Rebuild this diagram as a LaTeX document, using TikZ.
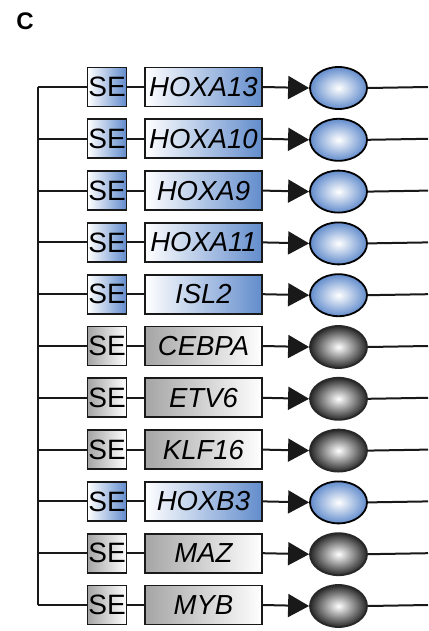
\documentclass[tikz,border=0pt]{standalone}
\usepackage{fontspec}
\setmainfont{Liberation Sans}
\usetikzlibrary{arrows.meta,shapes.geometric}

% shading colours for the two kinds of rows (b = blue, g = grey)
\definecolor{seblue}{RGB}{98,140,204}
\definecolor{segray}{RGB}{165,165,165}
\definecolor{balldark}{RGB}{40,40,40}
\colorlet{lcb}{white}   \colorlet{rcb}{seblue}
\colorlet{lcg}{segray}  \colorlet{rcg}{white}
\colorlet{ocb}{seblue}  \colorlet{ocg}{balldark}
\colorlet{dcb}{black}   \colorlet{dcg}{balldark}

\begin{document}
\begin{tikzpicture}[x=1pt,y=-1pt,
  wire/.style={draw=black!90, line width=2pt},
  box/.style={draw=black!90, line width=1.8pt, minimum height=39pt, inner sep=0pt},
  sebox/.style={box, minimum width=39pt, font=\fontsize{28}{28}\selectfont},
  genebox/.style={box, minimum width=117pt, font=\fontsize{27.5}{27.5}\selectfont\itshape},
  tf/.style={ellipse, minimum width=57pt, minimum height=42pt, inner sep=0pt, line width=1.8pt},
  tip/.style={-{Triangle[length=21pt,width=23pt]}}
]
\useasboundingbox (0,0) rectangle (428,631);

\node[font=\fontsize{24}{24}\selectfont\bfseries] (panel) at (25,21) {C};

\foreach \i/\g/\c in {1/HOXA13/b, 2/HOXA10/b, 3/HOXA9/b, 4/HOXA11/b, 5/ISL2/b,
                      6/CEBPA/g, 7/ETV6/g, 8/KLF16/g, 9/HOXB3/b, 10/MAZ/g, 11/MYB/g}{
  \pgfmathsetmacro{\y}{87+(\i-1)*51.8}
  \coordinate (bus\i) at (38,\y);
  \coordinate (out\i) at (428,\y);
  \node[sebox, left color=lc\c, right color=rc\c] (se\i) at (107,\y) {SE};
  \node[genebox, left color=lc\c, right color=rc\c] (gene\i) at (203.5,\y) {\g};
  \node[tf, draw=dc\c, inner color=white, outer color=oc\c] (tf\i) at (338.5,\y+1) {};
  \draw[wire] (bus\i) -- (se\i.west);
  \draw[wire] (se\i) -- (gene\i);
  \draw[wire, tip] (gene\i.east) -- (tf\i.west);
  \draw[wire] (tf\i.east) -- (out\i);
}
% common bus joining all enhancers
\draw[wire] (bus1) -- (bus11);
\end{tikzpicture}
\end{document}
